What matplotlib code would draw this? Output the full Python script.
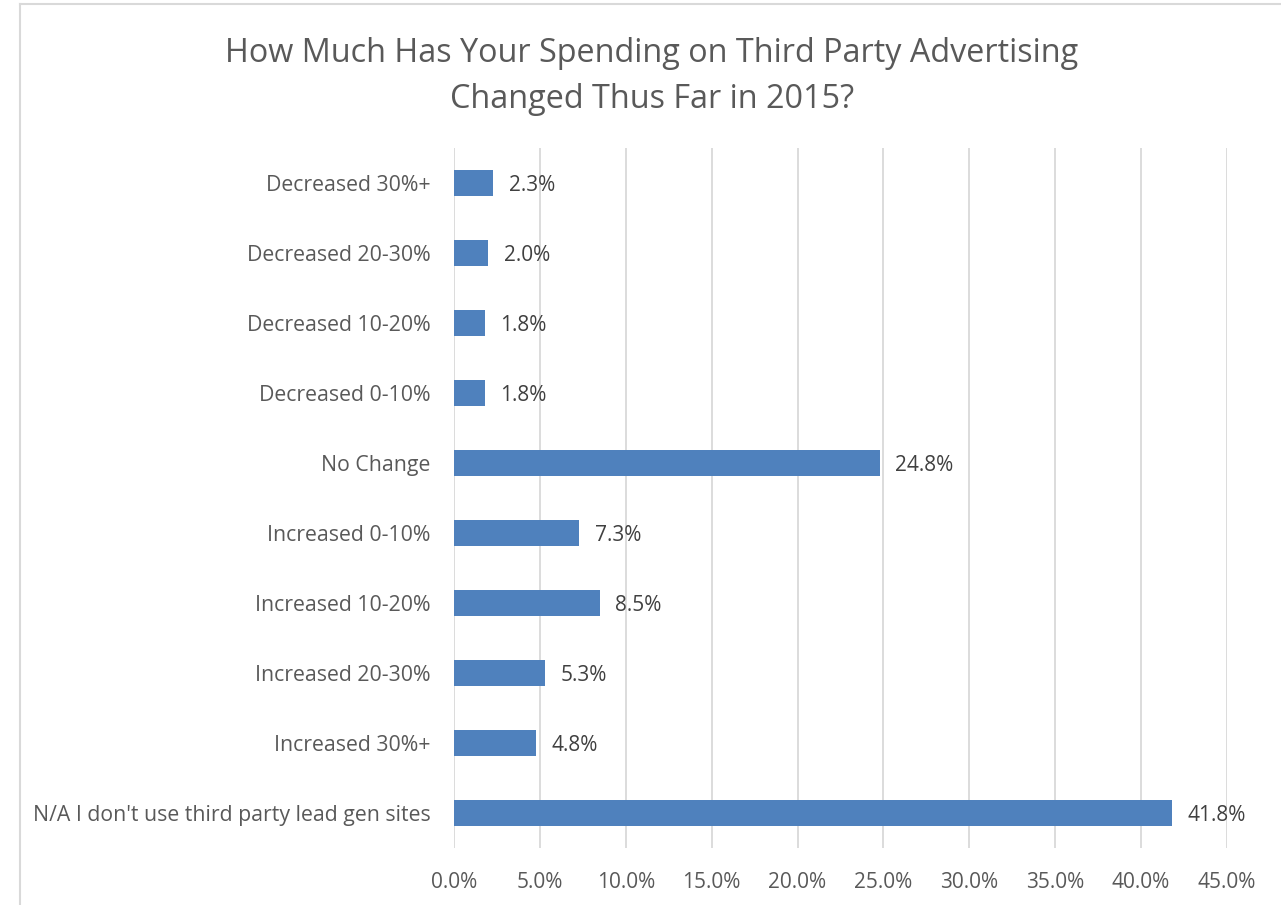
import matplotlib.pyplot as plt
from matplotlib.lines import Line2D

categories = ['Decreased 30%+', 'Decreased 20-30%', 'Decreased 10-20%', 'Decreased 0-10%',
              'No Change', 'Increased 0-10%', 'Increased 10-20%', 'Increased 20-30%',
              'Increased 30%+', "N/A I don't use third party lead gen sites"]
values = [2.3, 2.0, 1.8, 1.8, 24.8, 7.3, 8.5, 5.3, 4.8, 41.8]
xticks = [0, 5, 10, 15, 20, 25, 30, 35, 40, 45]

text_color = '#595959'
plt.rcParams['font.family'] = ['Open Sans', 'DejaVu Sans']

fig = plt.figure(figsize=(12.81, 9.05), dpi=100)
ax = fig.add_axes([0.3544, 0.0630, 0.6034, 0.7735])

y = list(range(len(categories)))
ax.barh(y, values, height=0.36, color='#4F81BD', zorder=3)
ax.set_ylim(len(categories) - 0.5, -0.5)
ax.set_xlim(0, 45)
ax.set_yticks(y)
ax.set_yticklabels(categories, fontsize=15.3, color=text_color)
ax.set_xticks(xticks)
ax.set_xticklabels(['%.1f%%' % t for t in xticks], fontsize=15, color=text_color)
ax.tick_params(axis='both', length=0)
ax.tick_params(axis='y', pad=17)
ax.tick_params(axis='x', pad=17)
ax.grid(axis='x', color='#D9D9D9', linewidth=1.3, zorder=0)
for s in ax.spines.values():
    s.set_visible(False)

for yi, v in zip(y, values):
    ax.text(v + 0.9, yi + 0.03, '%.1f%%' % v, va='center', ha='left', fontsize=15, color='#404040')

fig.text(0.509, 1 - 77 / 905, 'How Much Has Your Spending on Third Party Advertising\nChanged Thus Far in 2015?',
         ha='center', va='center', fontsize=23.3, color=text_color, linespacing=1.52)

# chart frame (cropped at right and bottom)
fig.add_artist(Line2D([20 / 1281, 1], [1 - 4.5 / 905, 1 - 4.5 / 905], color='#D9D9D9', linewidth=1.5))
fig.add_artist(Line2D([20 / 1281, 20 / 1281], [0, 1 - 4.5 / 905], color='#D9D9D9', linewidth=1.5))

fig.savefig('out.png', dpi=100)
